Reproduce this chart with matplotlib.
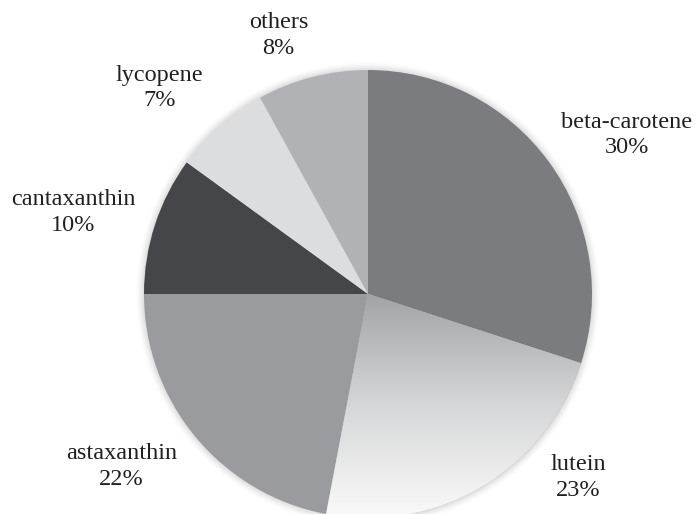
import numpy as np
import matplotlib
matplotlib.use("Agg")
import matplotlib.pyplot as plt
from matplotlib.patches import Circle
from matplotlib.colors import LinearSegmentedColormap

plt.rcParams["font.family"] = ["Liberation Serif", "DejaVu Serif"]

# data
labels = ["beta-carotene", "lutein", "astaxanthin", "cantaxanthin", "lycopene", "others"]
shares = [30, 23, 22, 10, 7, 8]
colors = ["#7b7c80", "#a4a6a8", "#9a9b9f", "#454649", "#dcdddf", "#b1b2b5"]

# label centres in pie-radius units (hand placed, as in the original)
label_pos = [(1.155, 0.71), (0.94, -0.82), (-1.10, -0.77),
             (-1.315, 0.365), (-0.93, 0.92), (-0.40, 1.155)]

fig = plt.figure(figsize=(6.97, 5.14), dpi=100)
ax = fig.add_axes([0, 0, 1, 1])

# soft shadow behind the pie
for r, a in zip(np.linspace(1.035, 1.0, 8), np.linspace(0.015, 0.06, 8)):
    ax.add_patch(Circle((0, 0), r, color="#808080", alpha=a, lw=0, zorder=0))

wedges, _ = ax.pie(shares, colors=colors, startangle=90, counterclock=False,
                   radius=1.0, wedgeprops=dict(linewidth=0))
for w in wedges:
    w.set_zorder(2)

# vertical gradient on lutein slice
cmap = LinearSegmentedColormap.from_list("lut", ["#a2a4a6", "#d6d7d8", "#fafafa"])
grad = np.linspace(0, 1, 256).reshape(-1, 1)
im = ax.imshow(grad, cmap=cmap, extent=(-1, 1, -1, 0), aspect="auto",
               origin="upper", zorder=3)
im.set_clip_path(wedges[1])

for lab, pct, (x, y) in zip(labels, shares, label_pos):
    ax.text(x, y, f"{lab}\n{pct}%", ha="center", va="center",
            fontsize=17.5, color="#231f20", linespacing=1.3, zorder=5)

ax.set_xlim(-368 / 224, (697 - 368) / 224)
ax.set_ylim(-(514 - 294) / 224, 294 / 224)
ax.set_aspect("equal")
ax.axis("off")

fig.savefig("out.png", dpi=100, facecolor="white")
